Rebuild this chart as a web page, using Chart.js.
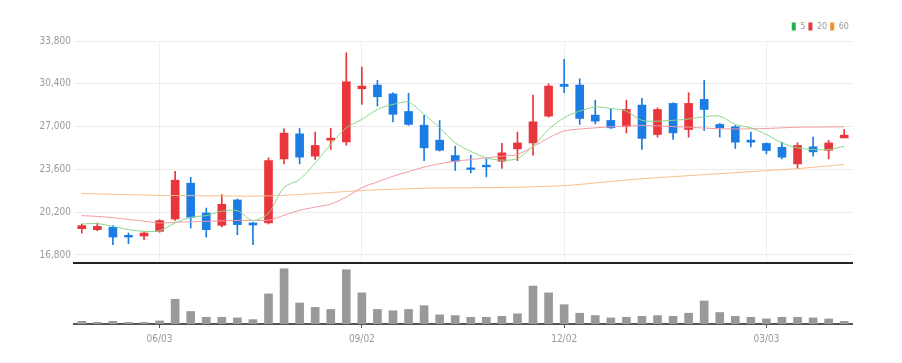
<!DOCTYPE html>
<html>
<head>
<meta charset="utf-8">
<script src="https://cdn.jsdelivr.net/npm/chart.js@4.4.1/dist/chart.umd.min.js"></script>
<style>
  html, body { margin: 0; padding: 0; background: #fff; }
  #wrap { width: 902px; height: 363px; position: relative; }
  .box { position: absolute; left: 0; width: 902px; }
  #priceBox { top: 0; height: 272px; }
  #volBox { top: 263px; height: 100px; }
</style>
</head>
<body>
<div id="wrap">
  <div class="box" id="priceBox"><canvas id="priceChart"></canvas></div>
  <div class="box" id="volBox"><canvas id="volChart"></canvas></div>
</div>
<script>
/* ── Données (hebdo) ── */
const labels = [
  "04/29", "05/06", "05/13", "05/20", "05/27", "06/03", "06/10", "06/17", "06/24", "07/01",
  "07/08", "07/15", "07/22", "07/29", "08/05", "08/12", "08/19", "08/26", "09/02", "09/09",
  "09/16", "09/23", "09/30", "10/07", "10/14", "10/21", "10/28", "11/04", "11/11", "11/18",
  "11/25", "12/02", "12/09", "12/16", "12/23", "12/30", "01/06", "01/13", "01/20", "01/27",
  "02/03", "02/10", "02/17", "02/24", "03/03", "03/10", "03/17", "03/24", "03/31", "04/07"
];
const tickLabels = ["06/03", "09/02", "12/02", "03/03"];
const priceTicks = [16800, 20200, 23600, 27000, 30400, 33800];

const opens = [
  18890, 18810, 19000, 18360, 18300, 18680, 19650, 22500, 20130, 19150,
  21170, 19340, 19350, 24430, 26420, 24650, 25920, 25780, 30000, 30300,
  29600, 28200, 27110, 25920, 24700, 23720, 23930, 24250, 25230, 25700,
  27830, 30350, 30300, 27910, 27490, 27030, 28710, 26370, 28840, 26770,
  29160, 27170, 26980, 25920, 25660, 25360, 24030, 25390, 25120, 26100
];
const highs = [
  19260, 19340, 19130, 18540, 18680, 19600, 23450, 22970, 20530, 21600,
  21250, 19400, 24510, 26820, 26850, 26560, 26850, 32870, 31730, 30670,
  29690, 29640, 27890, 27490, 25440, 24730, 24430, 25660, 26560, 29500,
  30400, 32340, 30800, 29100, 28440, 29100, 29240, 28490, 28890, 29690,
  30670, 27250, 27090, 26560, 25700, 25760, 25710, 26160, 25900, 26770
];
const lows = [
  18540, 18730, 17620, 17700, 18020, 18600, 19550, 18940, 18220, 19020,
  18410, 17620, 19260, 24030, 24030, 24380, 25180, 25520, 28760, 28630,
  27380, 27100, 24300, 25050, 23510, 23320, 23000, 23670, 24300, 24730,
  27750, 29690, 27170, 27220, 26850, 26500, 25180, 26160, 25980, 26160,
  26690, 26160, 25260, 25390, 24830, 24430, 23670, 24650, 24430, 26100
];
const closes = [
  19130, 19070, 18220, 18220, 18540, 19530, 22740, 19790, 18810, 20830,
  19210, 19180, 24300, 26480, 24570, 25500, 26080, 30560, 30220, 29370,
  27970, 27170, 25310, 25120, 24250, 23590, 23800, 24910, 25700, 27380,
  30220, 30190, 27650, 27430, 26900, 28360, 26060, 28360, 26500, 28840,
  28360, 26900, 25760, 25760, 25100, 24570, 25500, 24990, 25700, 26320
];

/* moyennes mobiles */
const ma5 = [
  19260, 19290, 19070, 18810, 18680, 18730, 19340, 19790, 19930, 20270,
  20320, 19530, 20130, 22180, 22790, 24110, 25580, 26900, 27570, 28360,
  28760, 28940, 27970, 26900, 25700, 25040, 24510, 24330, 24460, 25440,
  26770, 27700, 28230, 28550, 28440, 28230, 27490, 27430, 27500, 27600,
  27780, 27830, 27170, 26900, 26370, 25700, 25310, 25180, 25180, 25440
];
const ma20 = [
  19930, 19860, 19760, 19620, 19480, 19340, 19390, 19430, 19470, 19510,
  19540, 19550, 19560, 19950, 20350, 20600, 20850, 21400, 22150, 22600,
  23050, 23420, 23780, 24050, 24250, 24380, 24520, 24650, 24780, 25400,
  26100, 26650, 26800, 26900, 26980, 27040, 27080, 27050, 27000, 26950,
  26880, 26830, 26810, 26820, 26850, 26900, 26950, 26960, 26970, 26980
];
const ma60 = [
  21680, 21650, 21620, 21590, 21560, 21530, 21520, 21510, 21500, 21490,
  21480, 21470, 21490, 21540, 21600, 21680, 21760, 21840, 21910, 21970,
  22020, 22070, 22100, 22120, 22130, 22140, 22150, 22160, 22180, 22210,
  22260, 22310, 22400, 22520, 22640, 22760, 22850, 22940, 23020, 23100,
  23180, 23260, 23340, 23420, 23500, 23580, 23660, 23770, 23880, 23990
];

const volumes = [
  78000, 48000, 78000, 48000, 48000, 90000, 729000, 369000, 198000, 198000,
  180000, 129000, 888000, 1629000, 618000, 489000, 429000, 1599000, 918000, 429000,
  390000, 429000, 540000, 270000, 249000, 198000, 198000, 228000, 300000, 1119000,
  918000, 570000, 318000, 249000, 180000, 198000, 228000, 249000, 228000, 318000,
  678000, 339000, 228000, 198000, 150000, 198000, 198000, 180000, 150000, 78000
];

/* ── Styles ── */
const UP = "#e8363c";
const DOWN = "#1b7de4";
const FONT = "'Liberation Sans Narrow', 'DejaVu Sans Condensed', 'Roboto Condensed', sans-serif";
const candleColors = closes.map((c, i) => (c >= opens[i] ? UP : DOWN));

const keepLabelTicks = (scale) => {
  scale.ticks = scale.ticks.filter((t) => tickLabels.includes(labels[t.value]));
};

new Chart(document.getElementById("priceChart"), {
  data: {
    labels,
    datasets: [
      {
        type: "bar",
        label: "wick",
        data: lows.map((l, i) => [l, highs[i]]),
        backgroundColor: candleColors,
        barThickness: 1,
        grouped: false,
        order: 3,
      },
      {
        type: "bar",
        label: "body",
        data: opens.map((o, i) => [o, closes[i]]),
        backgroundColor: candleColors,
        barThickness: 8,
        grouped: false,
        order: 2,
      },
      {
        type: "line",
        label: "5",
        data: ma5,
        borderColor: "#8ad68a",
        backgroundColor: "#22b14c",
        borderWidth: 1,
        pointRadius: 0,
        tension: 0.3,
        order: 1,
      },
      {
        type: "line",
        label: "20",
        data: ma20,
        borderColor: "#f29a9e",
        backgroundColor: "#e8363c",
        borderWidth: 1,
        pointRadius: 0,
        tension: 0.3,
        order: 1,
      },
      {
        type: "line",
        label: "60",
        data: ma60,
        borderColor: "#f6bd88",
        backgroundColor: "#f0922b",
        borderWidth: 1,
        pointRadius: 0,
        tension: 0.3,
        order: 1,
      },
    ],
  },
  options: {
    responsive: true,
    maintainAspectRatio: false,
    animation: false,
    layout: { padding: { top: 19, right: 50, bottom: 0, left: 0 } },
    plugins: {
      tooltip: { enabled: false },
      legend: {
        position: "top",
        align: "end",
        labels: {
          boxWidth: 4,
          boxHeight: 8,
          padding: 3,
          color: "#999",
          font: { size: 9, family: FONT },
          generateLabels: (chart) =>
            Chart.defaults.plugins.legend.labels
              .generateLabels(chart)
              .filter((l) => l.datasetIndex >= 2)
              .map((l) => ({ ...l, lineWidth: 0 })),
        },
      },
    },
    scales: {
      x: {
        offset: true,
        afterBuildTicks: keepLabelTicks,
        afterFit: (s) => {
          s.height = 1;
        },
        ticks: { display: false },
        grid: { color: "#efefef", offset: false, drawTicks: false },
        border: { color: "#222", width: 2 },
      },
      y: {
        min: 16160,
        max: 33800,
        afterBuildTicks: (s) => {
          s.ticks = priceTicks.map((v) => ({ value: v }));
        },
        afterFit: (s) => {
          s.width = 74;
        },
        ticks: {
          color: "#999",
          padding: 3,
          font: { size: 10, family: FONT },
          callback: (v) => v.toLocaleString("en-US"),
        },
        grid: { color: "#ececec", drawTicks: false },
        border: { display: false },
      },
    },
  },
});

new Chart(document.getElementById("volChart"), {
  type: "bar",
  data: {
    labels,
    datasets: [
      {
        label: "Volume",
        data: volumes,
        backgroundColor: "#999",
        barThickness: 8,
      },
    ],
  },
  options: {
    responsive: true,
    maintainAspectRatio: false,
    animation: false,
    layout: { padding: { top: 3, right: 50, bottom: 13, left: 74 } },
    plugins: { legend: { display: false }, tooltip: { enabled: false } },
    scales: {
      x: {
        afterBuildTicks: keepLabelTicks,
        ticks: {
          color: "#999",
          padding: 5,
          maxRotation: 0,
          autoSkip: false,
          font: { size: 10, family: FONT },
        },
        grid: {
          offset: false,
          drawOnChartArea: false,
          tickLength: 4,
          tickColor: "#555",
        },
        border: { color: "#555", width: 2 },
      },
      y: {
        display: false,
        min: 0,
        max: 1710000,
      },
    },
  },
});
</script>
</body>
</html>
